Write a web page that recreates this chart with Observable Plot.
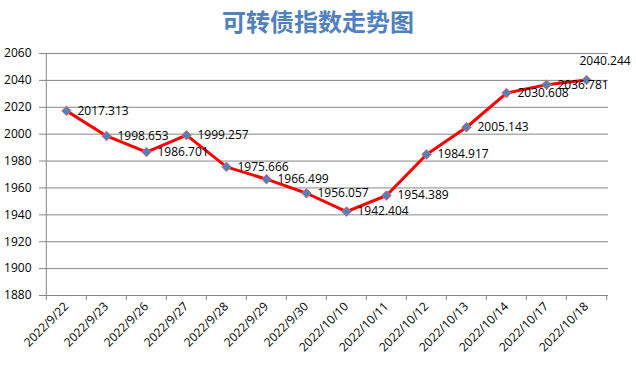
<!DOCTYPE html>
<html><head><meta charset="utf-8">
<script src="https://cdn.jsdelivr.net/npm/d3@7"></script>
<script src="https://cdn.jsdelivr.net/npm/@observablehq/plot@0.6"></script>
<style>
body{margin:0;background:#fff;width:636px;height:365px;overflow:hidden}
#title{height:40px;line-height:42px;text-align:center;font-family:"Noto Sans CJK SC";font-weight:bold;font-size:24px;color:#4f81bd;padding-left:0}
#chart svg{display:block;overflow:visible}
</style></head><body>
<div id="title">可转债指数走势图</div>
<div id="chart"></div>
<script>
const dates = ["2022/9/22","2022/9/23","2022/9/26","2022/9/27","2022/9/28","2022/9/29","2022/9/30","2022/10/10","2022/10/11","2022/10/12","2022/10/13","2022/10/14","2022/10/17","2022/10/18"];
const values = [2017.313,1998.653,1986.701,1999.257,1975.666,1966.499,1956.057,1942.404,1954.389,1984.917,2005.143,2030.608,2036.781,2040.244];
const yTicks = [1880,1900,1920,1940,1960,1980,2000,2020,2040,2060];

const data = dates.map((d,i)=>({date:d, value:values[i]}));
const W=636, H=325;
const mL=43, mR=28, mT=13, mB=70;
const step=(W-mL-mR)/dates.length;
const last = dates[dates.length-1];
const gray = "#868686";

const plot = Plot.plot({
  width:W, height:H, marginLeft:mL, marginRight:mR, marginTop:mT, marginBottom:mB,
  style:{fontFamily:"'Open Sans'", fontSize:"12px", color:"#000", background:"#fff", overflow:"visible"},
  x:{type:"point", domain:dates, padding:0.5, label:null},
  y:{domain:[1880,2060], label:null},
  marks:[
    Plot.gridY(yTicks,{stroke:gray, strokeOpacity:1}),
    Plot.axisY(yTicks,{tickSize:4, tickPadding:8, stroke:gray, fill:"#000", fontSize:12, label:null, tickFormat:d=>String(d)}),
    Plot.ruleY([1880],{stroke:gray}),
    Plot.ruleX([dates[0]],{dx:-step/2, stroke:gray}),
    Plot.ruleX(dates,{x:d=>d, y1:1880, y2:1880, insetBottom:-5, dx:-step/2, stroke:gray}),
    Plot.ruleX([last],{x:d=>d, y1:1880, y2:1880, insetBottom:-5, dx:step/2, stroke:gray}),
    Plot.axisX({tickSize:0, tickPadding:9, tickRotate:-45, fill:"#000", fontSize:12, label:null}),
    Plot.line(data,{x:"date", y:"value", stroke:"#ff0000", strokeWidth:3}),
    Plot.dot(data,{x:"date", y:"value", symbol:"diamond2", r:4.3, fill:"#4f81bd", stroke:"#e06666", strokeWidth:1}),
    Plot.text(data.filter(d=>d.date!==last),{x:"date", y:"value", text:d=>d.value.toFixed(3), textAnchor:"start", dx:11, lineAnchor:"middle", fontSize:12, fill:"#000"}),
    Plot.text(data.filter(d=>d.date===last),{x:"date", y:"value", text:d=>d.value.toFixed(3), textAnchor:"start", dx:-7, dy:-19, lineAnchor:"middle", fontSize:12, fill:"#000"})
  ]
});
document.getElementById("chart").appendChild(plot);
</script>
</body></html>
